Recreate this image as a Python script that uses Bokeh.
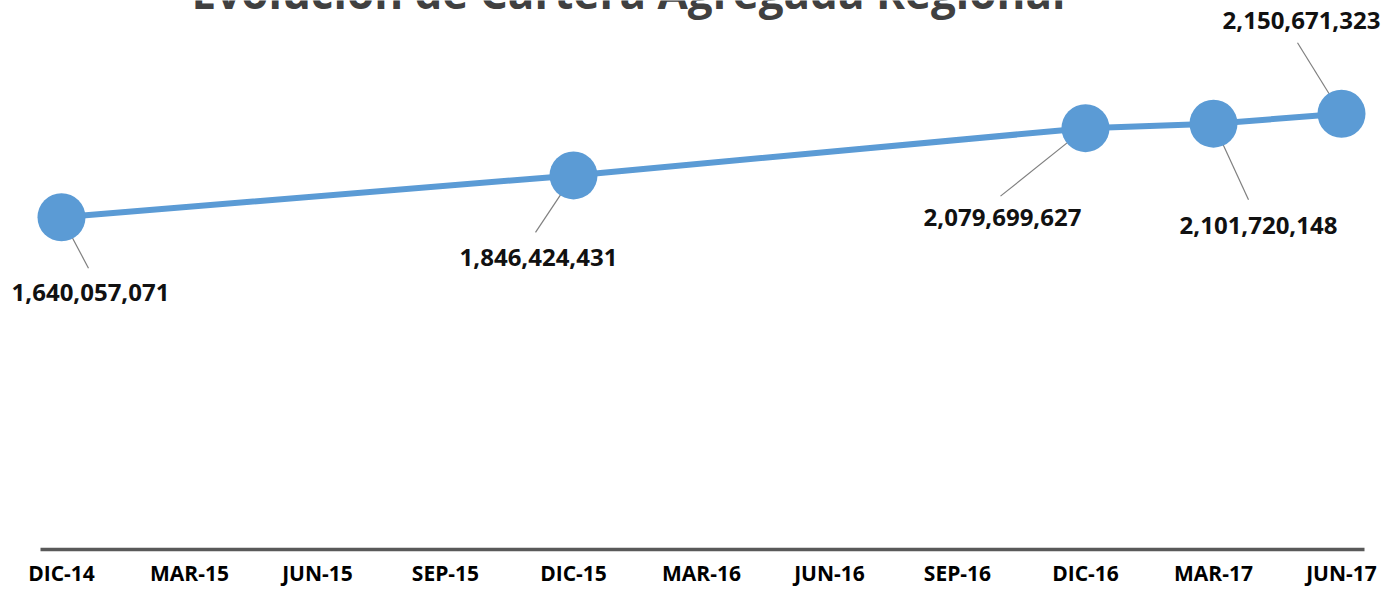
from bokeh.plotting import figure
from bokeh.models import Range1d, FixedTicker, ColumnDataSource, Label
from bokeh.core.properties import value
from bokeh.embed import file_html
from bokeh.resources import INLINE

# ---- data ----
tick_labels = ["DIC-14", "MAR-15", "JUN-15", "SEP-15", "DIC-15", "MAR-16",
               "JUN-16", "SEP-16", "DIC-16", "MAR-17", "JUN-17"]
point_periods = ["DIC-14", "DIC-15", "DIC-16", "MAR-17", "JUN-17"]
point_values = [1640057071, 1846424431, 2079699627, 2101720148, 2150671323]
title_text = "Evolución de Cartera Agregada Regional"

# ---- layout (canvas pixels) ----
W, H, FH = 1386, 589, 549
PX_PER_CAT = 128.0
X0_PX = 61.0            # canvas x of first category
PX_PER_VAL = 202.6e-9   # pixels per unit value

x_start = -X0_PX / PX_PER_CAT
x_end = (W - X0_PX) / PX_PER_CAT
y_end = FH / PX_PER_VAL

def dx(px):
    return px / PX_PER_CAT

def dy(px):
    return px / PX_PER_VAL

xs = [tick_labels.index(c) for c in point_periods]
labels = ["{:,}".format(v) for v in point_values]

# label offsets (screen px, +y down) and leader-line end offsets
lab_dx = [29, -35, -83, 45, -40]
lab_dy = [75, 82, 89, 102, -93]
lead_dx = [27, -38, -85, 35, -44]
lead_dy = [51, 57, 68, 76, -71]

src = ColumnDataSource(dict(
    x=xs, y=point_values, label=labels,
    lx=lab_dx, ly=lab_dy,
    x1=[x + dx(a) for x, a in zip(xs, lead_dx)],
    y1=[v - dy(b) for v, b in zip(point_values, lead_dy)],
))

p = figure(width=W, height=H, output_backend="svg", toolbar_location=None,
           x_range=Range1d(x_start, x_end), y_range=Range1d(0, y_end),
           min_border_left=0, min_border_right=0, min_border_top=0,
           min_border_bottom=H - FH)
p.outline_line_color = None
p.background_fill_color = "white"
p.border_fill_color = "white"
p.xgrid.visible = False
p.ygrid.visible = False
p.yaxis.visible = False

ax = p.xaxis[0]
ax.ticker = FixedTicker(ticks=list(range(len(tick_labels))))
ax.major_label_overrides = {i: t for i, t in enumerate(tick_labels)}
ax.bounds = (dx(40 - X0_PX), dx(1364 - X0_PX))
ax.axis_line_color = "#595959"
ax.axis_line_width = 3.5
ax.major_tick_line_color = None
ax.minor_tick_line_color = None
ax.major_tick_out = 0
ax.major_tick_in = 0
ax.minor_tick_out = 0
ax.major_label_standoff = 9
ax.major_label_text_font = "Open Sans"
ax.major_label_text_font_style = "bold"
ax.major_label_text_font_size = "21px"
ax.major_label_text_color = "#000000"

p.line("x", "y", source=src, line_color="#5B9BD5", line_width=6)
p.segment(x0="x", y0="y", x1="x1", y1="y1", source=src, line_color="#7f7f7f", line_width=1.2)
p.scatter("x", "y", source=src, size=48, fill_color="#5B9BD5", line_color=None)
p.text("x", "y", text="label", source=src, x_offset="lx", y_offset="ly",
       text_align="center", text_baseline="middle",
       text_font=value("Open Sans"), text_font_style="bold", text_font_size="24px",
       text_color="#111111")

title = Label(x=dx(628 - X0_PX), y=dy(FH + 9), text=title_text,
              text_align="center", text_baseline="alphabetic",
              text_font="Open Sans", text_font_style="bold", text_font_size="44px",
              text_color="#404040")
p.add_layout(title)

open("out.html", "w").write(file_html(p, INLINE))
